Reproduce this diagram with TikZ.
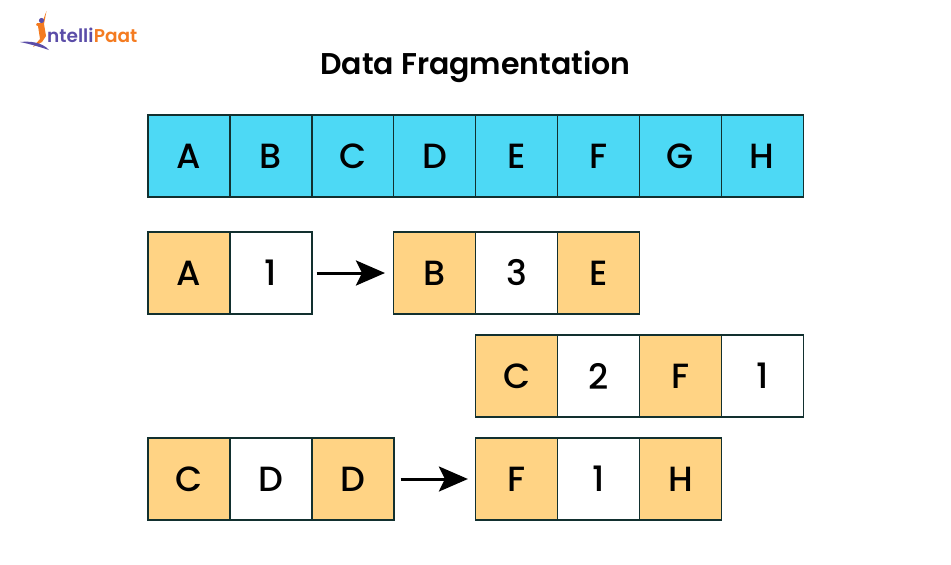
\documentclass[tikz,border=0pt]{standalone}
\usepackage{fontspec}
\setmainfont{Poppins}[BoldFont={Poppins SemiBold}]
\newfontfamily\medfont{Poppins Medium}
\usetikzlibrary{arrows.meta}

\definecolor{cellblue}{HTML}{4DD9F5}
\definecolor{cellorange}{HTML}{FFD384}
\definecolor{celledge}{HTML}{12302F}
\definecolor{logoorange}{HTML}{F47B20}
\definecolor{logopurple}{HTML}{5B4DA8}

\tikzset{
cell/.style={draw=celledge, line width=1.4pt, minimum width=82pt, minimum height=82pt, inner sep=0pt, font=\medfont\fontsize{35}{40}\selectfont, text=black, anchor=center},
bluecell/.style={cell, fill=cellblue},
orangecell/.style={cell, fill=cellorange},
whitecell/.style={cell, fill=white},
flowarrow/.style={line width=3pt, -{Stealth[length=29pt, width=25pt, inset=6pt]}}
}

\begin{document}
\begin{tikzpicture}[x=1pt, y=-1pt]

\useasboundingbox (0,0) rectangle (951,565);

\node[font=\bfseries\fontsize{30}{36}\selectfont] (title) at (475.5,67) {Data Fragmentation};

% top row
\foreach \n\ntext in {0/A,1/B,2/C,3/D,4/E,5/F,6/G,7/H}
\node[bluecell] (top\n) at (189+81.9*\n,156) {\ntext};

% second row
\node[orangecell] (a1) at (189,273) {A};
\node[whitecell] (a2) at (270.9,273) {1};
\node[orangecell] (a3) at (434.7,273) {B};
\node[whitecell] (a4) at (516.6,273) {3};
\node[orangecell] (a5) at (598.5,273) {E};

% third row
\node[orangecell] (b1) at (516.6,376) {C};
\node[whitecell] (b2) at (598.5,376) {2};
\node[orangecell] (b3) at (680.4,376) {F};
\node[whitecell] (b4) at (762.3,376) {1};

% fourth row
\node[orangecell] (c1) at (189,479) {C};
\node[whitecell] (c2) at (270.9,479) {D};
\node[orangecell] (c3) at (352.8,479) {D};
\node[orangecell] (c4) at (516.6,479) {F};
\node[whitecell] (c5) at (598.5,479) {1};
\node[orangecell] (c6) at (680.4,479) {H};

\draw[flowarrow, shorten <=4pt, shorten >=8pt] (a2) -- (a3);
\draw[flowarrow, shorten <=6pt, shorten >=7pt] (c3) -- (c4);

% logo
\node[font=\bfseries\fontsize{18.5}{22}\selectfont, text=logopurple, anchor=base west, inner sep=0pt] (logoa) at (47,42) {ntelli};
\node[font=\bfseries\fontsize{18.5}{22}\selectfont, text=logoorange, anchor=base west, inner sep=0pt] (logob) at (logoa.base east) {Paat};
\fill[logoorange] (46.5,11) -- (44,24) -- (46,36) -- (42,42) -- (33,47) -- (40,39) -- (38,26) -- (36,25) -- (37,23) -- (42,23) -- cycle;
\fill[logopurple] (41.5,20.5) circle (2.6pt);
\fill[logopurple] (20,42) .. controls (30,41) and (42,42) .. (49,50) .. controls (40,47) and (30,44) .. (20,42) -- cycle;

\end{tikzpicture}
\end{document}
